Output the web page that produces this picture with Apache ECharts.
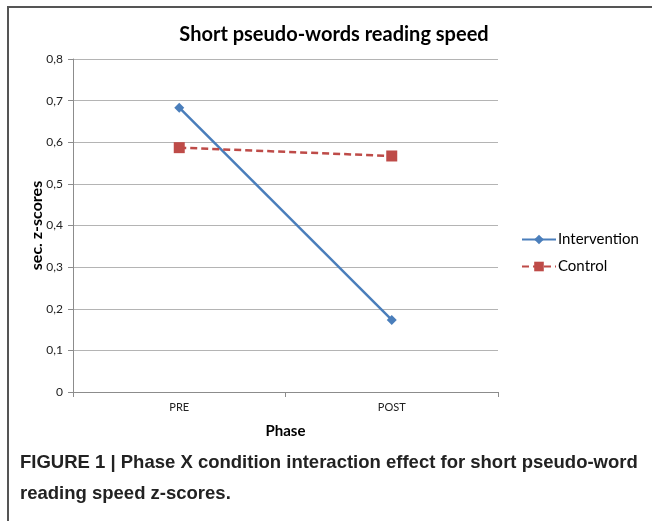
<!DOCTYPE html>
<html><head><meta charset="utf-8">
<script src="https://cdn.jsdelivr.net/npm/echarts@6/dist/echarts.min.js"></script>
<style>html,body{margin:0;padding:0;background:#fff}#c{width:652px;height:521px}</style>
</head><body><div id="c"></div>
<script>
const categories = ['PRE', 'POST'];
const intervention = [0.683, 0.173];
const control = [0.587, 0.567];
const yTicks = [0, 0.1, 0.2, 0.3, 0.4, 0.5, 0.6, 0.7, 0.8];

const chart = echarts.init(document.getElementById('c'));
const F = 'Lato, "Open Sans", sans-serif';
chart.setOption({
  animation: false,
  backgroundColor: '#fff',
  title: {
    text: 'Short pseudo-words reading speed',
    left: 329, top: 20, textAlign: 'center',
    textStyle: {fontFamily: F, fontSize: 20, fontWeight: 'bold', color: '#000'}
  },
  grid: {left: 73, top: 59, width: 425, height: 333},
  legend: {
    orient: 'vertical', left: 516, top: 227, itemGap: 12,
    itemWidth: 34, itemHeight: 12,
    textStyle: {fontFamily: F, fontSize: 15, color: '#000', padding: [0,0,0,-3]},
    data: ['Intervention', 'Control']
  },
  xAxis: {
    type: 'category', data: categories, boundaryGap: true,
    name: 'Phase', nameLocation: 'middle', nameGap: 32, nameMoveOverlap: false,
    nameTextStyle: {fontFamily: F, fontSize: 15, fontWeight: 'bold', color: '#000'},
    axisLine: {lineStyle: {color: '#8c8c8c'}},
    axisTick: {show: true, length: 5, lineStyle: {color: '#8c8c8c'}},
    axisLabel: {fontFamily: F, fontSize: 11, color: '#222', margin: 10}
  },
  yAxis: {
    type: 'value', min: 0, max: 0.8, interval: 0.1,
    name: 'sec. z-scores', nameLocation: 'middle', nameGap: 28, nameMoveOverlap: false,
    nameTextStyle: {fontFamily: F, fontSize: 16, fontWeight: 'bold', color: '#000'},
    axisLine: {show: true, lineStyle: {color: '#8c8c8c'}},
    axisTick: {show: true, length: 5, lineStyle: {color: '#8c8c8c'}},
    axisLabel: {fontFamily: F, fontSize: 12, color: '#222', margin: 10,
      formatter: v => { const t = yTicks.find(x => Math.abs(x - v) < 1e-9); const n = t === undefined ? v : t; return n === 0 ? '0' : n.toFixed(1).replace('.', ','); }},
    splitLine: {lineStyle: {color: '#b4b4b4', width: 1}}
  },
  series: [
    {name: 'Intervention', type: 'line', data: intervention,
     symbol: 'diamond', symbolSize: 10,
     lineStyle: {color: '#4a7ebb', width: 2.5},
     itemStyle: {color: '#4a7ebb'}},
    {name: 'Control', type: 'line', data: control,
     symbol: 'rect', symbolSize: 11,
     lineStyle: {color: '#be4b48', width: 2.5, type: [7, 4]},
     itemStyle: {color: '#be4b48'}}
  ],
  graphic: [
    {type: 'line', shape: {x1: 7, y1: 7, x2: 652, y2: 7}, style: {stroke: '#555', lineWidth: 2}},
    {type: 'line', shape: {x1: 8, y1: 6, x2: 8, y2: 521}, style: {stroke: '#555', lineWidth: 2}},
    {type: 'text', left: 20, top: 453, style: {text: 'FIGURE 1 | Phase X condition interaction effect for short pseudo-word', fontFamily: '"Liberation Sans", Arial, sans-serif', fontSize: 18.5, fontWeight: 'bold', fill: '#222'}},
    {type: 'text', left: 20, top: 484, style: {text: 'reading speed z-scores.', fontFamily: '"Liberation Sans", Arial, sans-serif', fontSize: 18.5, fontWeight: 'bold', fill: '#222'}}
  ]
});
</script></body></html>
